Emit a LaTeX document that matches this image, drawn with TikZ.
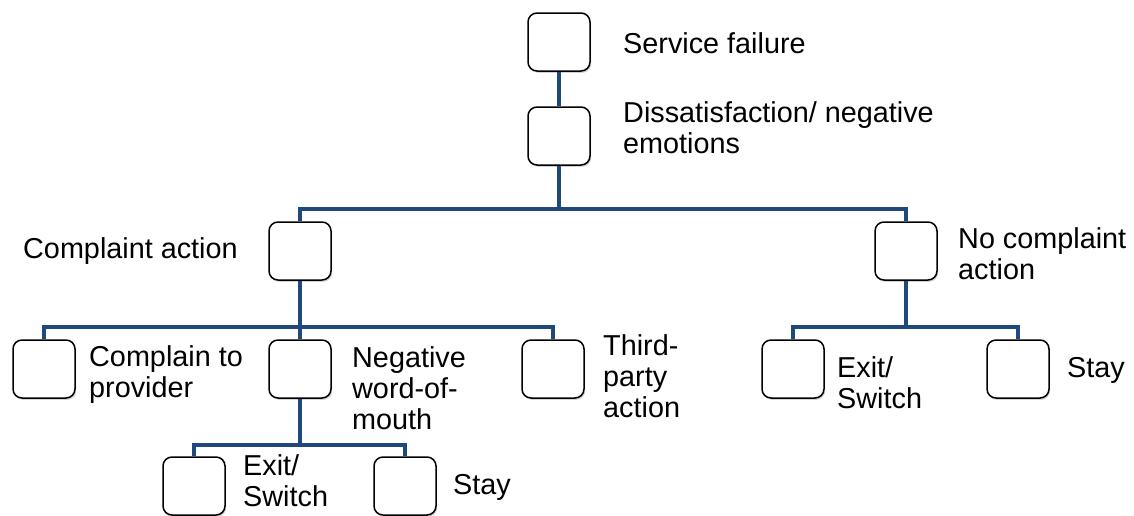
\documentclass[tikz,border=0pt]{standalone}
\usepackage{fontspec}
\setmainfont{Liberation Sans}
\usetikzlibrary{shadows}
\definecolor{treeblue}{HTML}{1F497D}
\tikzset{
  box/.style={draw=black, line width=1.5pt, fill=white, rounded corners=9pt,
    minimum width=62pt, minimum height=58pt, inner sep=0pt,
    drop shadow={shadow xshift=1.2pt, shadow yshift=-1.8pt, opacity=0.35, fill=gray}},
  lbl/.style={anchor=north west, inner sep=0pt, align=left, font=\fontsize{28.8}{31}\selectfont},
  conn/.style={draw=treeblue, line width=4.8pt, line join=miter}
}
\begin{document}
\begin{tikzpicture}[x=1pt,y=-1pt]
\useasboundingbox (0,0) rectangle (1134,515);
% boxes
\node[box] (bSF)  at (559,42)  {};
\node[box] (bDis) at (559,136) {};
\node[box] (bCA)  at (300,251) {};
\node[box] (bNCA) at (906,251) {};
\node[box] (bCP)  at (44,369)  {};
\node[box] (bNW)  at (300,369) {};
\node[box] (bTP)  at (553,369) {};
\node[box] (bEx2) at (793,369) {};
\node[box] (bSt2) at (1018,369) {};
\node[box] (bEx1) at (194,486) {};
\node[box] (bSt1) at (405,486) {};
% junctions
\coordinate (j1) at (559,209);
\coordinate (j2) at (300,327);
\coordinate (j3) at (300,445);
\coordinate (j4) at (906,327);
% connectors
\draw[conn] (bSF.south) -- (bDis.north);
\draw[conn] (bDis.south) -- (j1);
\draw[conn] (bCA.north) |- (j1) -| (bNCA.north);
\draw[conn] (bCA.south) -- (bNW.north);
\draw[conn] (bCP.north) |- (j2) -| (bTP.north);
\draw[conn] (bNW.south) -- (j3);
\draw[conn] (bEx1.north) |- (j3) -| (bSt1.north);
\draw[conn] (bNCA.south) -- (j4);
\draw[conn] (bEx2.north) |- (j4) -| (bSt2.north);
% labels
\node[lbl] (tSF)  at (623,32)  {Service failure};
\node[lbl] (tDis) at (623,101) {Dissatisfaction/ negative\\emotions};
\node[lbl] (tCA)  at (23,237)  {Complaint action};
\node[lbl] (tNCA) at (958,227) {No complaint\\action};
\node[lbl] (tCP)  at (89,345)  {Complain to\\provider};
\node[lbl] (tNW)  at (352,346) {Negative\\word-of-\\mouth};
\node[lbl] (tTP)  at (603,334) {Third-\\party\\action};
\node[lbl] (tEx2) at (837,356) {Exit/\\Switch};
\node[lbl] (tSt2) at (1067,357) {Stay};
\node[lbl] (tEx1) at (243,454) {Exit/\\Switch};
\node[lbl] (tSt1) at (453,474) {Stay};
\end{tikzpicture}
\end{document}
